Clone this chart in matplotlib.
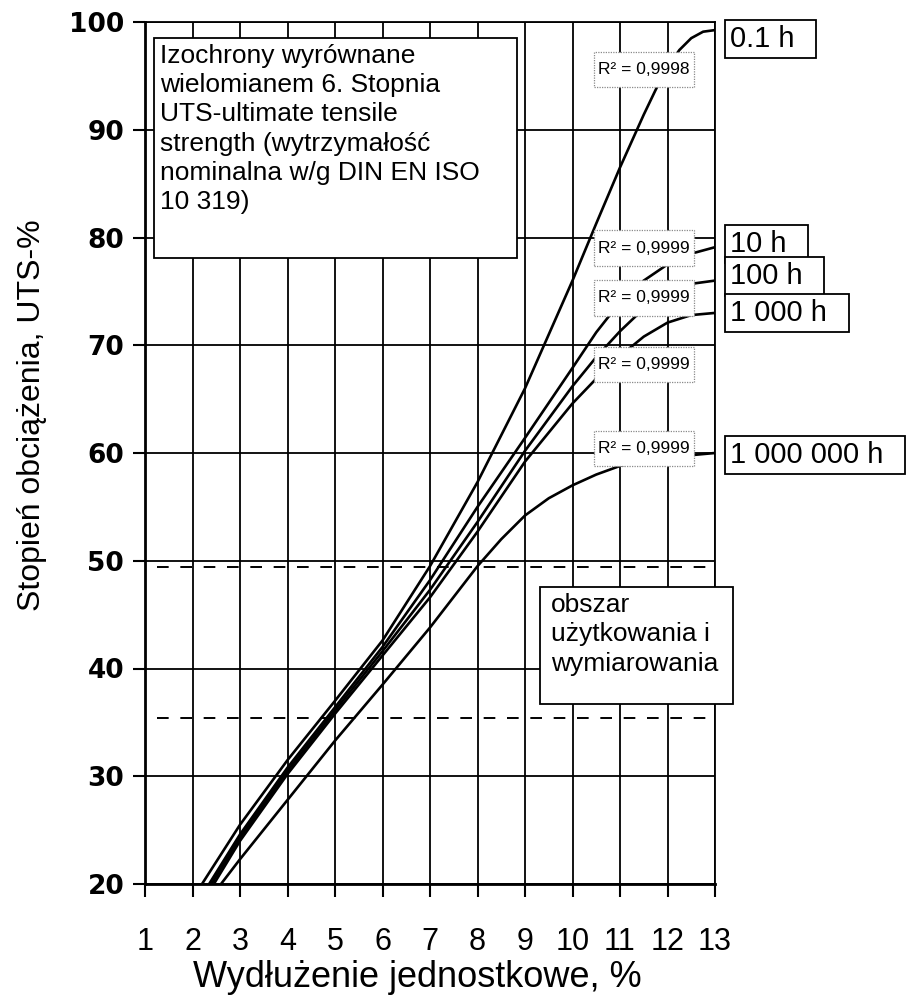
import matplotlib
matplotlib.use("Agg")
import matplotlib.pyplot as plt
from matplotlib.patches import Rectangle

# izochrony: wydluzenie [%] -> stopien obciazenia [UTS-%]
x_01h = [2.2, 3, 4, 5, 6, 7, 8, 9, 10, 10.5, 11, 11.5, 11.75, 12, 12.25, 12.5, 12.75, 13]
y_01h = [20, 25.5, 31.5, 37.0, 42.6, 49.5, 57.3, 66.0, 76.0, 81.3, 86.5, 91.4, 93.7, 95.8, 97.4, 98.5, 99.1, 99.25]

x_10h = [2.35, 3, 4, 5, 6, 7, 8, 9, 10, 10.5, 11, 11.5, 12, 12.5, 13]
y_10h = [20, 24.6, 30.8, 36.4, 42.0, 48.2, 55.0, 61.4, 67.9, 71.2, 74.0, 76.0, 77.5, 78.5, 79.1]

x_100h = [2.4, 3, 4, 5, 6, 7, 8, 9, 10, 10.5, 11, 11.5, 12, 12.5, 13]
y_100h = [20, 24.3, 30.5, 36.1, 41.6, 47.3, 53.6, 60.2, 66.2, 68.9, 71.3, 73.4, 74.9, 75.7, 76.0]

x_1000h = [2.45, 3, 4, 5, 6, 7, 8, 9, 10, 10.5, 11, 11.5, 12, 12.5, 13]
y_1000h = [20, 24.0, 30.2, 35.8, 41.2, 46.6, 52.7, 59.2, 64.6, 66.9, 69.0, 70.8, 72.1, 72.8, 73.0]

x_1e6h = [2.6, 3, 4, 5, 6, 7, 8, 8.5, 9, 9.5, 10, 10.5, 11, 11.5, 12, 12.5, 13]
y_1e6h = [20, 22.3, 27.8, 33.3, 38.5, 43.8, 49.5, 52.0, 54.2, 55.8, 57.0, 58.0, 58.8, 59.3, 59.6, 59.8, 60.0]

series_x = [x_01h, x_10h, x_100h, x_1000h, x_1e6h]
series_y = [y_01h, y_10h, y_100h, y_1000h, y_1e6h]
names = ["0.1 h", "10 h", "100 h", "1 000 h", "1 000 000 h"]
r2_text = ["R\u00b2 = 0,9998", "R\u00b2 = 0,9999", "R\u00b2 = 0,9999", "R\u00b2 = 0,9999", "R\u00b2 = 0,9999"]

# polozenie etykiet (uklad, nie dane)
name_y = [98.4, 79.4, 76.4, 73.0, 59.8]
r2_y = [95.6, 79.0, 74.4, 68.2, 60.4]
r2_x = 11.5

# granice obszaru uzytkowania
dashed_levels = [49.4, 35.4]
dashed_start = 1.25

xticks = list(range(1, 14))
yticks = list(range(20, 101, 10))

box_text = ("Izochrony wyrównane\nwielomianem 6. Stopnia\nUTS-ultimate tensile\n"
            "strength (wytrzymałość\nnominalna w/g DIN EN ISO\n10 319)")
area_text = "obszar\nużytkowania i\nwymiarowania"

plt.rcParams["font.family"] = ["Liberation Sans", "DejaVu Sans"]

fig = plt.figure(figsize=(9.07, 9.98), dpi=100)
ax = fig.add_axes([145 / 907, 1 - 884 / 998, 570 / 907, 862 / 998])

for xs, ys in zip(series_x, series_y):
    ax.plot(xs, ys, color="black", lw=1.9, zorder=3, solid_capstyle="butt")

for lev in dashed_levels:
    ax.plot([dashed_start, 13], [lev, lev], color="black", lw=1.4,
            linestyle=(0, (6, 6)), zorder=2)

ax.set_xlim(1, 13)
ax.set_ylim(20, 100)
ax.set_xticks(xticks)
ax.set_yticks(yticks)
ax.grid(True, color="black", lw=1.3, zorder=1)
ax.set_axisbelow(True)

for s in ["left", "bottom"]:
    ax.spines[s].set_linewidth(2.0)
for s in ["top", "right"]:
    ax.spines[s].set_linewidth(1.3)

ax.tick_params(axis="both", direction="out", length=9, width=1.5, color="black")
ax.tick_params(axis="x", pad=22, labelsize=22)
ax.tick_params(axis="y", pad=6)
for lab in ax.get_yticklabels():
    lab.set_family(["DejaVu Sans"])
    lab.set_fontweight("bold")
    lab.set_fontsize(19)

ax.set_xlabel("Wydłużenie jednostkowe, %", fontsize=26)
ax.set_ylabel("Stopień obciążenia, UTS-%", fontsize=23)
ax.xaxis.set_label_coords(0.477, -0.109)
ax.xaxis.label.set_va("center")
ax.yaxis.set_label_coords(-0.198, 0.544)
ax.yaxis.label.set_va("center")

# ramka z opisem
ax.add_patch(Rectangle((1.19, 78.1), 7.64, 20.4, facecolor="white",
                       edgecolor="black", lw=1.3, zorder=4))
ax.text(1.31, 98.0, box_text, fontsize=19, va="top", ha="left",
        linespacing=1.28, zorder=5)

# obszar uzytkowania
ax.add_patch(Rectangle((9.32, 36.7), 4.06, 10.9, facecolor="white",
                       edgecolor="black", lw=1.3, zorder=4, clip_on=False))
ax.text(9.55, 47.0, area_text, fontsize=19, va="top", ha="left",
        linespacing=1.28, zorder=5, clip_on=False)

# wspolczynniki R2
r2_w, r2_h = 2.1, 3.3
for txt, yy in zip(r2_text, r2_y):
    ax.add_patch(Rectangle((r2_x - r2_w / 2, yy - r2_h / 2), r2_w, r2_h,
                           facecolor="white", edgecolor="#8a8a8a", lw=0.9,
                           linestyle=(0, (1, 1)), zorder=6))
    ax.text(r2_x, yy, txt, fontsize=12.5, ha="center", va="center", zorder=7)

# etykiety izochron
for nm, yy in zip(names, name_y):
    ax.annotate(nm + "  ", xy=(13, yy), xytext=(11, 0), textcoords="offset points",
                fontsize=21, ha="left", va="center", annotation_clip=False,
                zorder=6,
                bbox=dict(boxstyle="square,pad=0.18", facecolor="white",
                          edgecolor="black", lw=1.3))

fig.savefig("out.png", dpi=100)
